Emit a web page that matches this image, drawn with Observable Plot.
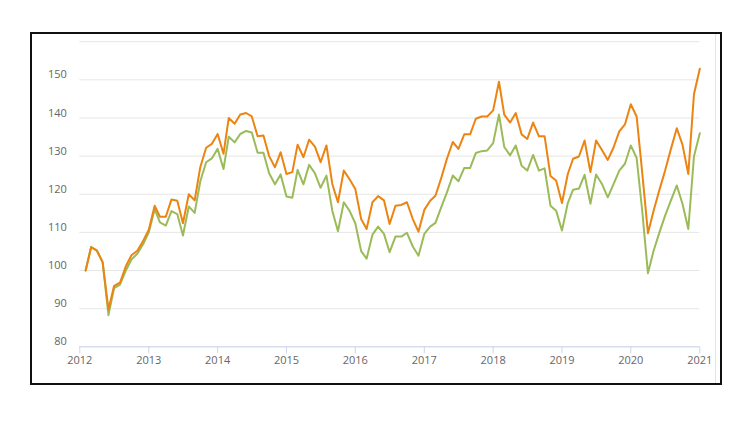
<!DOCTYPE html>
<html>
<head>
<meta charset="utf-8">
<script src="https://cdn.jsdelivr.net/npm/d3@7"></script>
<script src="https://cdn.jsdelivr.net/npm/@observablehq/plot@0.6"></script>
<style>
  html, body { margin: 0; padding: 0; background: #fff; }
  #wrap { position: relative; width: 754px; height: 422px; overflow: hidden; }
  #chart { position: absolute; left: 0; top: 0; }
  #frame { position: absolute; left: 30px; top: 32px; width: 692px; height: 353px; box-sizing: border-box; border: 2px solid #111; pointer-events: none; }
  #edge { position: absolute; left: 715px; top: 34px; width: 0; height: 349px; border-left: 1px solid #e4e4e4; pointer-events: none; }
</style>
</head>
<body>
<div id="wrap">
  <div id="chart"></div>
  <div id="edge"></div>
  <div id="frame"></div>
</div>
<script>
// Monthly observations, Feb 2012 – Jan 2021
const startMonth = "2012-02";
const endMonth = "2021-01";

const seriesOrange = [
  100, 106.1, 105.2, 102.2, 89.8, 96, 96.8, 101.1, 104, 105.2, 107.7,
  110.7, 117, 114.1, 114.1, 118.6, 118.3, 112.4, 120, 118.4, 127.1, 132.2, 133.2,
  135.8, 130.6, 140, 138.5, 140.9, 141.3, 140.4, 135.2, 135.4, 130, 127.1, 131,
  125.3, 125.8, 133, 129.7, 134.3, 132.5, 128.4, 132.8, 122.7, 117.9, 126.2, 124,
  121.4, 113.5, 110.9, 117.9, 119.5, 118.4, 112.2, 117, 117.2, 117.9, 113.5, 110.2,
  115.9, 118.3, 119.6, 124.3, 129.3, 133.7, 131.9, 135.7, 135.7, 139.8, 140.4, 140.4,
  142, 149.5, 140.9, 138.8, 141.3, 135.7, 134.5, 138.8, 135.2, 135.2, 124.8, 123.6,
  117.7, 125.3, 129.3, 129.9, 134.1, 125.8, 134.1, 131.6, 129, 132.2, 136.5, 138.3,
  143.6, 140.4, 126, 109.8, 115.7, 121.2, 126.2, 131.9, 137.3, 133, 125.3, 146.2,
  152.9
];

const seriesGreen = [
  100, 106.2, 105.2, 102.2, 88.3, 95.4, 96.3, 100, 102.9, 104.4, 106.8,
  110, 116.1, 112.6, 111.8, 115.6, 114.8, 109.2, 116.8, 115.1, 123.4, 128.4, 129.4,
  131.9, 126.6, 135.1, 133.6, 135.8, 136.6, 136.2, 130.9, 130.9, 125.5, 122.6, 125.2,
  119.4, 119.1, 126.4, 122.6, 127.7, 125.5, 121.7, 124.9, 115.7, 110.3, 117.9, 115.7,
  112.4, 105.1, 103.1, 109.4, 111.5, 109.6, 104.8, 108.9, 108.9, 109.9, 106.3, 103.9,
  109.6, 111.5, 112.5, 116.6, 120.5, 124.9, 123.4, 126.9, 126.9, 130.8, 131.3, 131.5,
  133.4, 140.9, 132.4, 130.2, 132.8, 127.5, 126.2, 130.3, 126.2, 126.8, 117, 115.7,
  110.5, 117.7, 121.2, 121.5, 125.1, 117.5, 125.2, 122.7, 119.2, 122.6, 126.2, 128,
  132.8, 129.5, 116, 99.3, 105.2, 110, 114.4, 118.4, 122.3, 117.5, 110.9, 129.9,
  136
];

const yTickValues = [80, 90, 100, 110, 120, 130, 140, 150];
const yGridValues = [80, 90, 100, 110, 120, 130, 140, 150, 160];
const xTickYears = [2012, 2013, 2014, 2015, 2016, 2017, 2018, 2019, 2020, 2021];

// build table
const parseMonth = d3.utcParse("%Y-%m");
const months = d3.utcMonth.range(parseMonth(startMonth), d3.utcMonth.offset(parseMonth(endMonth), 1));
const rowsOrange = months.map((d, i) => ({date: d, value: seriesOrange[i]}));
const rowsGreen = months.map((d, i) => ({date: d, value: seriesGreen[i]}));
const xTicks = xTickYears.map(y => new Date(Date.UTC(y, 0, 1)));

const font = "'Open Sans', 'DejaVu Sans', sans-serif";

const chart = Plot.plot({
  width: 754,
  height: 422,
  marginLeft: 79.3,
  marginRight: 54.7,
  marginTop: 41.2,
  marginBottom: 75.7,
  style: {fontFamily: font, fontSize: "11px", background: "transparent"},
  x: {type: "utc", domain: [xTicks[0], xTicks[xTicks.length - 1]]},
  y: {domain: [80, 160]},
  marks: [
    Plot.gridY(yGridValues, {stroke: "#e6e6e6", strokeOpacity: 1, strokeWidth: 1}),
    Plot.axisY(yTickValues, {tickSize: 0, tickPadding: 13, dy: -5, fill: "#666", fontSize: 11, label: null}),
    Plot.ruleY([80], {stroke: "#ccd6eb", strokeWidth: 1}),
    Plot.axisX(xTicks, {tickSize: 7, tickPadding: 2, stroke: "#ccd6eb", fill: "#666", fontSize: 11, label: null, tickFormat: d3.utcFormat("%Y")}),
    Plot.lineY(rowsGreen, {x: "date", y: "value", stroke: "#9bbb59", strokeWidth: 2}),
    Plot.lineY(rowsOrange, {x: "date", y: "value", stroke: "#ec8412", strokeWidth: 2})
  ]
});
document.getElementById("chart").appendChild(chart);
</script>
</body>
</html>
